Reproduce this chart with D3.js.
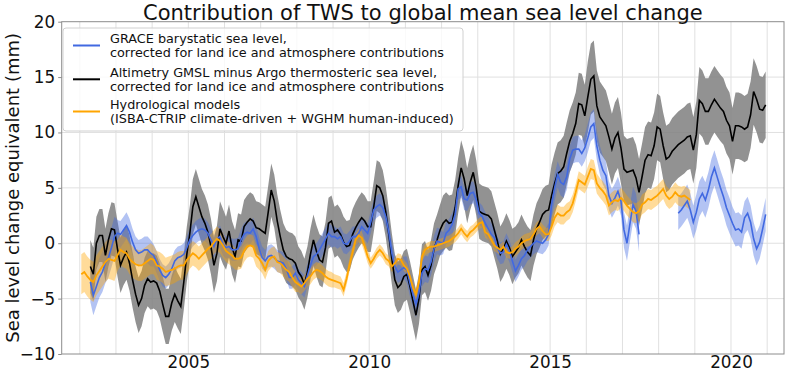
<!DOCTYPE html>
<html><head><meta charset="utf-8">
<script src="https://cdn.jsdelivr.net/npm/d3@7"></script>
<style>body{margin:0;background:#fff}svg{display:block}text{font-family:"DejaVu Sans",sans-serif}</style>
</head><body><svg id="c" width="786" height="372"></svg>
<script>
// ---------- DATA ----------
const title = "Contribution of TWS to global mean sea level change";
const yLabel = "Sea level change equivalent (mm)";
const xTicks = [2005, 2010, 2015, 2020];
const yTicks = [-10, -5, 0, 5, 10, 15, 20];
const legendLabels = [
  ["GRACE barystatic sea level,", "corrected for land ice and atmosphere contributions"],
  ["Altimetry GMSL minus Argo thermosteric sea level,", "corrected for land ice and atmosphere contributions"],
  ["Hydrological models", "(ISBA-CTRIP climate-driven + WGHM human-induced)"]
];

// monthly values, first month given as [year, month]
const altimetryStart = [2002, 4];
const altimetryValues = [
  -2.1,-2.8,0.0,0.7,0.7,-1.1,0.3,1.3,1.2,
  -0.5,-2.0,-1.3,-0.8,-1.8,-3.3,-4.6,-5.6,-5.0,-3.8,-3.2,-3.5,
  -3.4,-3.6,-4.3,-5.5,-6.6,-6.6,-5.4,-4.6,-5.2,-5.7,-3.5,-1.0,
  0.9,3.3,4.2,3.3,2.4,1.8,1.0,-0.3,-2.0,-0.9,1.3,0.6,
  0.0,1.1,-0.4,-1.2,0.3,0.2,1.5,1.9,2.2,2.0,1.4,1.3,
  1.1,0.9,2.8,4.8,3.8,2.0,0.6,-0.6,-1.2,-1.4,-1.5,-1.8,
  -2.6,-3.0,-3.7,-2.6,-1.0,0.3,-0.7,-1.5,-1.7,-0.4,1.8,2.0,
  1.0,1.2,0.8,0.1,-0.3,-0.2,0.8,1.4,1.9,2.3,2.0,1.5,
  1.5,3.3,5.2,5.0,4.3,2.8,0.8,-1.4,-3.3,-4.0,-3.7,-3.0,
  -2.8,-3.9,-5.2,-6.5,-5.0,-2.4,-2.1,-2.9,-2.0,-0.5,0.3,1.2,
  1.8,2.1,1.8,1.9,3.2,5.2,6.8,5.8,4.3,5.5,6.4,5.0,
  2.9,2.7,2.6,2.5,2.2,1.2,0.2,-1.0,-0.5,0.2,-0.4,-1.2,
  -0.8,-0.4,0.3,-0.3,-0.8,-1.1,0.3,1.3,1.9,2.6,2.9,3.0,
  4.3,5.4,6.3,6.5,6.9,8.1,9.2,9.9,10.8,12.6,12.5,11.5,
  13.2,14.8,15.1,12.4,11.4,11.0,10.6,9.6,8.5,9.5,10.0,8.6,
  6.7,6.4,6.5,6.6,5.9,4.6,6.0,7.5,8.0,7.9,8.8,10.5,
  10.3,8.8,7.6,7.8,8.3,8.6,8.9,9.1,9.3,9.6,9.7,8.4,
  9.8,12.9,12.6,11.9,11.9,12.5,13.0,12.6,12.2,11.9,11.1,10.6,
  9.2,10.6,10.6,10.5,10.3,10.5,11.6,13.7,13.0,12.1,12.0,12.5
];
// uncertainty half-width per calendar year, 2002..2020
const altimetryErr = [2.4,2.5,2.5,2.5,2.4,2.4,2.3,2.3,2.3,2.3,2.5,2.5,2.3,2.8,3.2,3.0,3.0,3.0,3.0];

const graceStart = [2002, 4];
const graceValues = [
  -3.5,-4.7,-3.9,-3.1,-2.6,-1.8,-1.3,-0.4,0.6,
  0.9,0.8,1.2,1.6,1.0,0.1,-0.6,-0.9,-0.8,-0.6,-0.6,-0.9,
  -1.1,-1.7,-2.4,-2.9,-3.1,-2.8,-2.3,-1.6,-1.3,-1.2,-1.0,-0.4,
  0.3,0.7,1.0,1.2,1.3,1.2,0.9,0.3,-0.3,0.4,0.6,-0.1,
  -0.4,-0.3,-0.6,-0.6,-0.5,0.3,0.8,1.0,0.9,1.3,0.6,-0.5,
  -1.3,-1.6,-1.2,-1.1,-1.3,-1.6,-1.7,-1.8,-2.3,-3.1,-3.1,-2.7,
  -3.3,-3.6,-3.9,-2.9,-2.0,-1.2,-1.0,-0.6,-0.1,0.4,0.9,0.6,
  0.6,0.4,0.6,0.0,-0.1,0.2,0.6,0.6,0.9,1.5,1.2,0.9,
  1.9,3.0,3.3,3.5,3.2,2.4,1.0,-0.9,-2.1,-2.6,-2.4,-2.2,
  -2.4,-3.6,-4.6,-5.5,-4.5,-2.7,-2.3,-2.4,-1.7,-0.5,0.2,0.1,
  0.0,0.9,1.2,1.7,2.6,4.9,5.1,4.0,3.9,4.5,4.6,3.9,
  2.7,2.4,1.8,1.3,0.8,0.5,-0.4,-0.9,-0.8,-0.1,-0.7,-1.6,
  -2.5,-2.0,-1.4,-1.1,-0.6,-0.3,0.0,0.2,0.1,0.0,0.3,0.8,
  3.5,5.0,6.2,5.5,5.3,6.0,7.6,8.4,8.5,8.5,8.1,8.6,
  9.5,10.5,10.8,8.8,7.5,6.6,6.1,4.3,3.6,4.1,4.7,3.8,
  1.2,0.0,1.8,3.5,2.9,0.8
];
const graceFOStart = [2018, 7];
const graceFOValues = [
  2.7,3.0,3.4,3.8,3.0,1.9,
  2.8,4.0,4.5,3.9,4.8,6.0,6.8,5.9,5.0,4.2,3.2,2.5,
  1.8,1.2,1.3,1.0,2.3,2.7,1.9,0.4,-0.5,0.1,1.3,2.6
];
const graceErr = [1.8,1.2,1.0,1.0,1.0,1.0,1.0,0.9,1.0,1.2,1.0,1.0,1.0,1.2,1.3,1.6,1.5,1.6,1.5];

const hydroStart = [2002, 1];
const hydroValues = [
  -2.8,-2.6,-3.0,-3.3,-3.5,-2.9,-2.5,-2.1,-1.7,-1.4,-1.5,-1.6,
  -1.1,-0.6,-0.8,-0.9,-1.4,-1.7,-1.9,-2.0,-2.0,-1.8,-1.6,-1.4,
  -1.5,-2.0,-2.1,-2.3,-2.6,-2.5,-2.4,-2.3,-2.1,-2.0,-2.0,-1.5,
  -1.2,-0.9,-1.1,-1.4,-1.1,-0.8,-0.5,-0.3,0.1,0.4,0.2,-0.2,
  -0.7,-0.9,-1.1,-1.4,-1.4,-1.3,-0.7,-0.3,-0.2,-0.3,-1.1,-1.4,
  -1.8,-2.4,-1.6,-1.3,-1.2,-1.7,-1.8,-2.1,-2.4,-2.6,-3.1,-3.5,
  -3.7,-3.9,-3.6,-3.2,-3.0,-2.6,-2.4,-2.5,-2.7,-3.0,-3.2,-3.3,
  -3.4,-3.5,-3.6,-4.2,-3.2,-1.9,-0.8,0.3,0.7,0.5,-0.3,-1.2,
  -1.8,-1.4,-0.9,-0.6,-0.9,-1.4,-1.6,-2.1,-1.8,-1.4,-1.5,-2.0,
  -2.3,-3.0,-4.0,-4.6,-3.5,-1.2,-0.6,-0.4,-0.3,-0.3,-0.2,-0.1,
  0.0,0.1,0.2,0.4,0.6,0.9,1.3,0.9,0.6,1.0,1.2,1.5,
  1.8,1.9,1.0,0.8,0.3,-0.2,-0.4,-0.6,-0.3,-0.8,-0.9,-0.8,
  -0.5,-0.3,0.0,0.2,0.3,0.4,0.8,1.3,1.5,1.1,0.8,0.8,
  1.5,2.3,2.7,2.5,2.5,2.8,3.0,3.6,4.6,5.7,5.5,5.3,
  6.0,6.7,6.6,5.4,5.0,4.7,4.3,3.4,3.7,3.9,3.8,4.1,
  3.8,3.4,3.1,2.8,2.7,2.9,3.5,3.7,4.0,3.9,4.1,4.3,
  4.6,4.9,4.3,4.0,4.2,4.6,4.3,4.2,4.3,4.1,3.9
];
const hydroErr = [1.8,1.4,1.3,1.1,1.0,0.9,0.7,0.6,0.5,0.5,0.5,0.5,0.6,0.8,0.9,0.9,0.9];
const errFirstYear = 2002;

// ---------- CHART ----------
const W = 786, H = 372;
const m = {left: 61.7, right: 784, top: 21.7, bottom: 354};
const x = d3.scaleLinear().domain([2001.5, 2021.465]).range([m.left, m.right]);
const y = d3.scaleLinear().domain([-10, 20]).range([m.bottom, m.top]);
const svg = d3.select("#c");

function series(start, vals, errs) {
  return vals.map((v, i) => {
    const t = start[0] + (start[1] - 1 + i + 0.5) / 12;
    const e = errs[Math.min(errs.length - 1, Math.floor(t) - errFirstYear)];
    return {t, v, e};
  });
}
const alti = series(altimetryStart, altimetryValues, altimetryErr);
const grace = series(graceStart, graceValues, graceErr);
const graceFO = series(graceFOStart, graceFOValues, graceErr);
const hydro = series(hydroStart, hydroValues, hydroErr);

svg.append("defs").append("clipPath").attr("id", "clip").append("rect")
  .attr("x", m.left).attr("y", m.top).attr("width", m.right - m.left).attr("height", m.bottom - m.top);

// grid
const grid = svg.append("g").attr("stroke", "#e0e0e0").attr("stroke-width", 1);
grid.selectAll("line.v").data(d3.range(2002, 2022)).join("line")
  .attr("x1", d => x(d)).attr("x2", d => x(d)).attr("y1", m.top).attr("y2", m.bottom);
grid.selectAll("line.h").data(yTicks.slice(1, -1)).join("line")
  .attr("y1", d => y(d)).attr("y2", d => y(d)).attr("x1", m.left).attr("x2", m.right);

const plot = svg.append("g").attr("clip-path", "url(#clip)");
const area = d3.area().x(d => x(d.t)).y0(d => y(d.v - d.e)).y1(d => y(d.v + d.e));
const line = d3.line().x(d => x(d.t)).y(d => y(d.v));

plot.append("path").datum(alti).attr("d", area).attr("fill", "#808080").attr("fill-opacity", 0.86);
[grace, graceFO].forEach(s => plot.append("path").datum(s).attr("d", area).attr("fill", "royalblue").attr("fill-opacity", 0.4));
plot.append("path").datum(hydro).attr("d", area).attr("fill", "orange").attr("fill-opacity", 0.4);

plot.append("path").datum(alti).attr("d", line).attr("fill", "none").attr("stroke", "black").attr("stroke-width", 1.6);
[grace, graceFO].forEach(s => plot.append("path").datum(s).attr("d", line).attr("fill", "none").attr("stroke", "royalblue").attr("stroke-width", 1.6));
plot.append("path").datum(hydro).attr("d", line).attr("fill", "none").attr("stroke", "orange").attr("stroke-width", 1.8);

// frame
svg.append("rect").attr("x", m.left).attr("y", m.top).attr("width", m.right - m.left).attr("height", m.bottom - m.top)
  .attr("fill", "none").attr("stroke", "#8c8c8c").attr("stroke-width", 1);

// axes
const yAxis = svg.append("g").attr("transform", `translate(${m.left},0)`)
  .call(d3.axisLeft(y).tickValues(yTicks).tickSize(3.5).tickPadding(3).tickFormat(d => d < 0 ? "\u2212" + Math.abs(d) : d));
const xAxis = svg.append("g").attr("transform", `translate(0,${m.bottom})`)
  .call(d3.axisBottom(x).tickValues(xTicks).tickSize(0).tickFormat(d3.format("d")));
[yAxis, xAxis].forEach(a => {
  a.select(".domain").remove();
  a.selectAll(".tick line").attr("stroke", "#8c8c8c");
  a.selectAll("text").attr("fill", "#111").attr("font-size", "16.8px").attr("font-family", "DejaVu Sans");
});
xAxis.selectAll("text").attr("y", 14).attr("dy", null);

// title & axis label
svg.append("text").attr("x", (m.left + m.right) / 2).attr("y", 19.5).attr("text-anchor", "middle")
  .attr("font-size", "21px").attr("fill", "#111").text(title);
svg.append("text").attr("transform", `translate(19,${(m.top + m.bottom) / 2}) rotate(-90)`)
  .attr("text-anchor", "middle").attr("font-size", "18px").attr("fill", "#111").text(yLabel);

// legend
const lg = svg.append("g");
lg.append("rect").attr("x", 63).attr("y", 28).attr("width", 400).attr("height", 103).attr("rx", 3)
  .attr("fill", "white").attr("fill-opacity", 0.8).attr("stroke", "#d0d0d0");
const legColors = ["royalblue", "black", "orange"];
const legY = [45.5, 79.3, 111.5];
legendLabels.forEach((lab, i) => {
  lg.append("line").attr("x1", 73).attr("x2", 100).attr("y1", legY[i]).attr("y2", legY[i])
    .attr("stroke", legColors[i]).attr("stroke-width", 2);
  lab.forEach((s, j) => lg.append("text").attr("x", 110).attr("y", legY[i] - 7 + j * 14 + 4.5)
    .attr("font-size", "12.8px").attr("fill", "#111").text(s));
});
</script>
</body></html>
